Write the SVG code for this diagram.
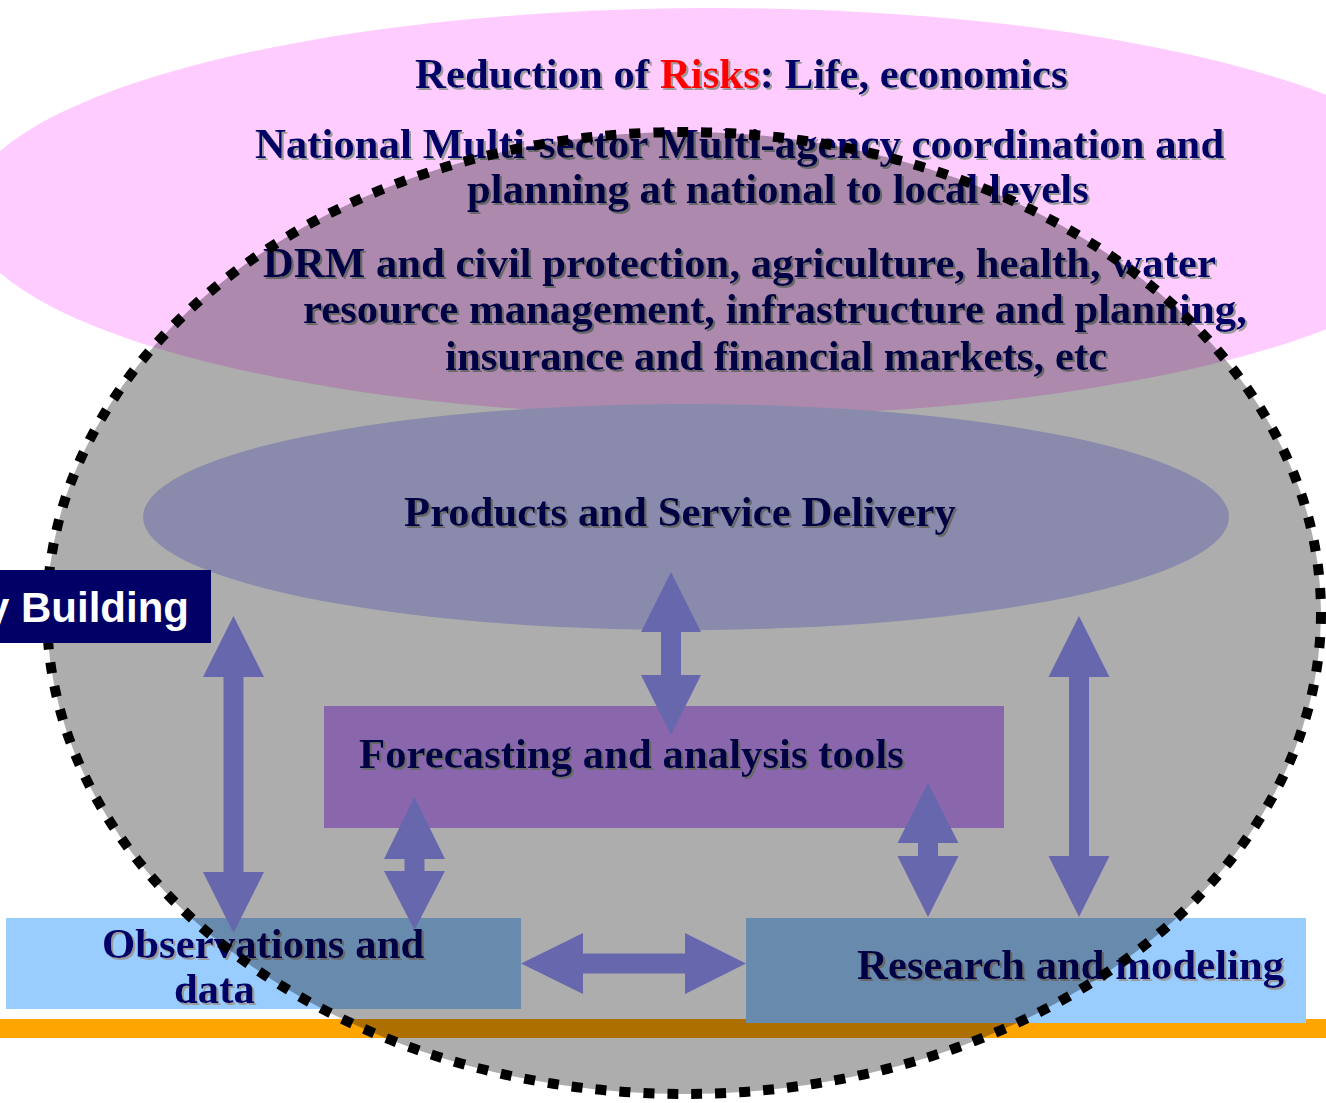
<svg xmlns="http://www.w3.org/2000/svg" width="1326" height="1103" viewBox="0 0 1326 1103">
<style>
.t{font-family:"Liberation Serif","Times New Roman",serif;font-weight:bold;font-size:42.8px;fill:#000066;filter:url(#sh)}
.arr{fill:#9999FF}
.blue{fill:#99CCFF}
</style>
<defs>
<filter id="sh" x="-5%" y="-20%" width="115%" height="150%">
<feDropShadow dx="2" dy="2" stdDeviation="0.4" flood-color="#9a9a9a" flood-opacity="1"/>
</filter>
</defs>
<rect width="1326" height="1103" fill="#ffffff"/>
<g id="risks">
<ellipse cx="714" cy="212" rx="748" ry="204" fill="#FFCCFF"/>
<text class="t" x="415" y="88">Reduction of <tspan fill="#FF0000">Risks</tspan>: Life, economics</text>
<text class="t" x="255" y="158">National Multi-sector Multi-agency coordination and</text>
<text class="t" x="467" y="203">planning at national to local levels</text>
<text class="t" x="263" y="277">DRM and civil protection, agriculture, health, water</text>
<text class="t" x="303" y="323">resource management, infrastructure and planning,</text>
<text class="t" x="445" y="370">insurance and financial markets, etc</text>
</g>
<g id="baseline">
<rect x="0" y="1019" width="1326" height="19" fill="#FFA500"/>
</g>
<g id="observations">
<rect class="blue" x="6" y="918" width="515" height="91"/>
<text class="t" x="102" y="958">Observations and</text>
<text class="t" x="174" y="1003">data</text>
</g>
<g id="research">
<rect class="blue" x="746" y="918" width="560" height="105"/>
<text class="t" x="857" y="979">Research and modeling</text>
</g>
<g id="products">
<ellipse cx="686" cy="517" rx="543" ry="113" fill="#CCCCFF"/>
<text class="t" x="404" y="526">Products and Service Delivery</text>
</g>
<g id="forecasting">
<rect x="324" y="706" width="680" height="122" fill="#CC99FF"/>
<text class="t" x="359" y="768">Forecasting and analysis tools</text>
</g>
<g id="connectors">
<polygon class="arr" points="233.5,616 264,677 243.5,677 243.5,872 264,872 233.5,933 203,872 223.5,872 223.5,677 203,677"/>
<polygon class="arr" points="671,572 701,632 681,632 681,675 701,675 671,735 641,675 661,675 661,632 641,632"/>
<polygon class="arr" points="414.5,797 445,859 424.5,859 424.5,871 445,871 414.5,930 384,871 404.5,871 404.5,859 384,859"/>
<polygon class="arr" points="928,783 958.5,843 938,843 938,856 958.5,856 928,917 897.5,856 918,856 918,843 897.5,843"/>
<polygon class="arr" points="1079,616 1109.5,677 1089,677 1089,856 1109.5,856 1079,917 1048.5,856 1069,856 1069,677 1048.5,677"/>
<polygon class="arr" points="521,963.5 583,933 583,953.5 685,953.5 685,933 746,963.5 685,994 685,973.5 583,973.5 583,994"/>
</g>
<g id="scope">
<ellipse cx="684" cy="613" rx="637" ry="481" fill="#000000" fill-opacity="0.32" stroke="#000000" stroke-width="10" stroke-dasharray="11 13"/>
</g>
<g id="capacity-building">
<rect x="0" y="570" width="211" height="73" fill="#000066"/>
<text x="189" y="622" text-anchor="end" font-family="'Liberation Sans',Arial,sans-serif" font-weight="bold" font-size="42" fill="#FFFFFF">y Building</text>
</g>
</svg>
